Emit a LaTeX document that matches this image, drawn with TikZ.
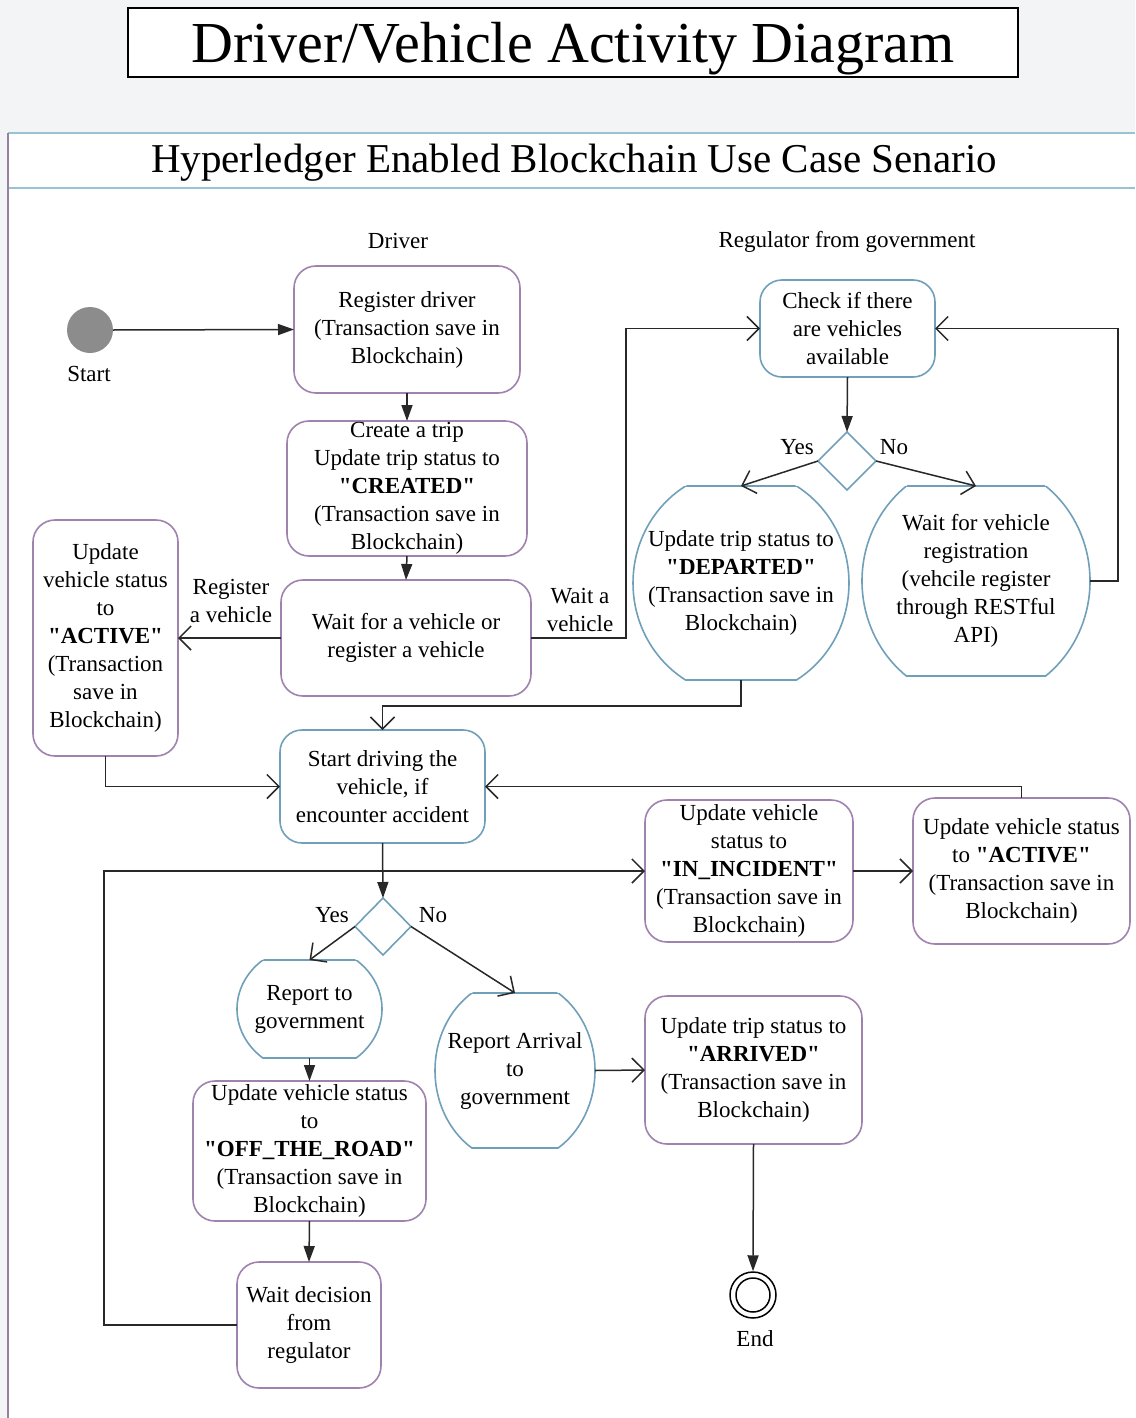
\documentclass[tikz,border=0pt]{standalone}
\usepackage{fontspec}
\setmainfont{Liberation Serif}
\usetikzlibrary{arrows.meta,shapes.geometric,calc}

\newcommand{\bodyfont}{\fontsize{23}{28}\selectfont}
\newcommand{\qstate}[1]{\textbf{\textquotedbl#1\textquotedbl}}
% flat-topped round shape around a plain node: name, half width, half height
\newcommand{\capshape}[3]{%
  \begin{scope}
    \clip ($(#1.north west)+(-6,0)$) rectangle ($(#1.south east)+(6,0)$);
    \draw[capline] (#1.center) ellipse (#2pt and #3pt);
  \end{scope}
  \begin{scope}
    \clip (#1.center) ellipse (#2pt and #3pt);
    \draw[capline] (#1.north west) -- (#1.north east) (#1.south west) -- (#1.south east);
  \end{scope}}

\begin{document}
\begin{tikzpicture}[x=1pt,y=-1pt,
    box/.style={draw=purpc, line width=1.6pt, rounded corners=22pt, fill=white,
      align=center, inner sep=0pt, outer sep=0pt, font=\bodyfont},
    boxb/.style={box, draw=bluec},
    roundcap/.style={align=center, inner sep=0pt, outer sep=0pt, font=\bodyfont},
    capline/.style={draw=bluec, line width=1.6pt},
    decide/.style={diamond, draw=bluec, line width=1.6pt, fill=white, inner sep=0pt, outer sep=0pt},
    lbl/.style={font=\bodyfont, align=center},
    flow/.style={draw=linec, line width=1.5pt, -{Straight Barb[length=12pt,width=24pt,line width=1.5pt]}},
    flowf/.style={draw=linec, line width=1.5pt, -{Triangle[length=16pt,width=11pt]}}]
    % Define custom colors
    \definecolor{bgc}{RGB}{243,244,246}
    \definecolor{purpc}{RGB}{160,130,175}
    \definecolor{bluec}{RGB}{112,160,185}
    \definecolor{poolc}{RGB}{150,196,210}
    \definecolor{linec}{RGB}{40,40,40}
    \definecolor{startc}{RGB}{140,140,140}

    \useasboundingbox (0,0) rectangle (1135,1418);
    \fill[bgc] (0,0) rectangle (1135,1418);

    % Title
    \node[draw=black, line width=1.5pt, fill=white, minimum width=890pt, minimum height=69pt,
      inner sep=0pt, text height=45pt, text depth=4pt,
      font=\fontsize{58}{64}\selectfont] (title) at (573,42.5) {Driver/Vehicle Activity Diagram};

    % Pool
    \fill[white] (8,133) rectangle (1135,1418);
    \draw[poolc, line width=2pt] (1135,133) -- (8,133) (8,188) -- (1135,188);
    \draw[purpc!70!gray, line width=2pt] (8,133) -- (8,1418);
    \node[font=\fontsize{41}{46}\selectfont] (pool) at (574,163) {Hyperledger Enabled Blockchain Use Case Senario};

    % Lanes
    \node[lbl] (lanedrv) at (398,241) {Driver};
    \node[lbl] (lanereg) at (847,242) {Regulator from government};

    % Start
    \node[circle, fill=startc, minimum size=46pt, inner sep=0pt] (start) at (90,330) {};
    \node[lbl] (startlbl) at (89,374) {Start};

    % Driver actions
    \node[box, minimum width=226pt, minimum height=127pt] (reg) at (407,329.5)
      {Register driver\\(Transaction save in\\Blockchain)};
    \node[box, minimum width=240pt, minimum height=135pt] (create) at (407,488.5)
      {Create a trip\\Update trip status to\\\qstate{CREATED}\\(Transaction save in\\Blockchain)};
    \node[box, minimum width=250pt, minimum height=116pt] (wait) at (406,638)
      {Wait for a vehicle or\\register a vehicle};
    \node[box, minimum width=145pt, minimum height=236pt] (act) at (105.5,638)
      {Update\\vehicle status\\to\\\qstate{ACTIVE}\\(Transaction\\save in\\Blockchain)};

    % Regulator actions
    \node[boxb, minimum width=175pt, minimum height=97pt] (check) at (847.5,328.5)
      {Check if there\\are vehicles\\available};
    \node[decide, minimum width=58pt, minimum height=58pt] (d1) at (847,461) {};
    \node[roundcap, minimum width=216pt, minimum height=194pt] (dep) at (741,583)
      {Update trip status to\\\qstate{DEPARTED}\\(Transaction save in\\Blockchain)};
    \node[roundcap, minimum width=228pt, minimum height=190pt] (wreg) at (976,581)
      {Wait for vehicle\\registration\\(vehcile register\\through RESTful\\API)};
    \capshape{dep}{108}{113}
    \capshape{wreg}{114}{120}

    % Driving
    \node[boxb, minimum width=205pt, minimum height=113pt] (drive) at (382.5,786.5)
      {Start driving the\\vehicle, if\\encounter accident};
    \node[decide, minimum width=56pt, minimum height=57pt] (d2) at (383,926.5) {};
    \node[box, minimum width=208pt, minimum height=142pt] (inc) at (749,871)
      {Update vehicle\\status to\\\qstate{IN\_INCIDENT}\\(Transaction save in\\Blockchain)};
    \node[box, minimum width=217pt, minimum height=146pt] (act2) at (1021.5,871)
      {Update vehicle status\\to \qstate{ACTIVE}\\(Transaction save in\\Blockchain)};
    \node[roundcap, minimum width=145pt, minimum height=98pt] (rg) at (309.5,1009)
      {Report to\\government};
    \node[roundcap, minimum width=160pt, minimum height=155pt] (ra) at (515,1070.5)
      {Report Arrival\\to\\government};
    \capshape{rg}{72.5}{64}
    \capshape{ra}{80}{92}
    \node[box, minimum width=233pt, minimum height=140pt] (off) at (309.5,1151)
      {Update vehicle status\\to\\\qstate{OFF\_THE\_ROAD}\\(Transaction save in\\Blockchain)};
    \node[box, minimum width=144pt, minimum height=126pt] (wdec) at (309,1325)
      {Wait decision\\from\\regulator};
    \node[box, minimum width=217pt, minimum height=148pt] (arr) at (753.5,1070)
      {Update trip status to\\\qstate{ARRIVED}\\(Transaction save in\\Blockchain)};

    % End
    \node[circle, draw=black, line width=1.5pt, minimum size=46pt, inner sep=0pt] (endn) at (753,1295) {};
    \draw[black, line width=1.5pt] (endn.center) circle (17pt);
    \node[lbl] (endlbl) at (755,1339) {End};

    % Connectors
    \draw[flowf] (start.east) -- (reg.west);
    \draw[flowf] (reg.south) -- (create.north);
    \draw[flowf] (create.south) -- (wait.north);
    \draw[flow] (wait.west) -- (act.east);
    \node[lbl] (lblreg) at (231,601) {Register\\a vehicle};
    \draw[flow] (wait.east) -- ++(95,0) |- (check.west);
    \node[lbl] (lblwait) at (580,610) {Wait a\\vehicle};
    \draw[flowf] (check.south) -- (d1.north);
    \draw[flow] (d1.west) -- (dep.north);
    \draw[flow] (d1.east) -- (wreg.north);
    \node[lbl] (yes1) at (797,447) {Yes};
    \node[lbl] (no1) at (894,447) {No};
    \draw[flow] (wreg.east) -- ++(28,0) |- (check.east);
    \draw[flow] (dep.south) |- ($(drive.north)+(0,-24)$) -- (drive.north);
    \draw[flow] (act.south) |- (drive.west);
    \draw[flow] (act2.north) |- (drive.east);
    \draw[flowf] (drive.south) -- (d2.north);
    \draw[flow] (d2.west) -- (rg.north);
    \draw[flow] (d2.east) -- (ra.north);
    \node[lbl] (yes2) at (332,915) {Yes};
    \node[lbl] (no2) at (433,915) {No};
    \draw[flowf] (rg.south) -- (off.north);
    \draw[flowf] (off.south) -- (wdec.north);
    \draw[flow] (wdec.west) -- ++(-133,0) |- (inc.west);
    \draw[flow] (inc.east) -- (act2.west);
    \draw[flow] (ra.east) -- (arr.west);
    \draw[flowf] (arr.south) -- (endn.north);
\end{tikzpicture}
\end{document}
